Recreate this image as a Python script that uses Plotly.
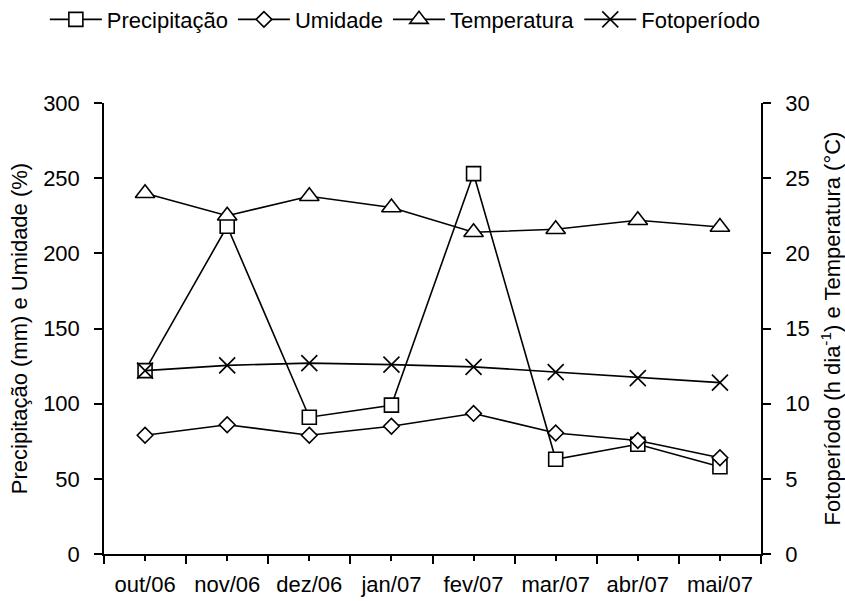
import plotly.graph_objects as go

months = ["out/06", "nov/06", "dez/06", "jan/07", "fev/07", "mar/07", "abr/07", "mai/07"]
precipitacao = [122, 218, 91, 99, 253, 63, 73, 58]
umidade = [79, 86, 79, 85, 93.5, 80.5, 75.5, 64]
temperatura = [24.0, 22.5, 23.8, 23.05, 21.4, 21.6, 22.2, 21.75]
fotoperiodo = [12.2, 12.55, 12.7, 12.6, 12.45, 12.1, 11.7, 11.4]

left_ticks = [0, 50, 100, 150, 200, 250, 300]
right_ticks = [0, 5, 10, 15, 20, 25, 30]

x_pos = list(range(len(months)))
bounds = [i - 0.5 for i in range(len(months) + 1)]

FONT = "Liberation Sans, Arial, sans-serif"
BLACK = "#000000"
LINE_W = 1.6

fig = go.Figure()

fig.add_trace(go.Scatter(
    x=x_pos, y=precipitacao, name="Precipitação", mode="lines+markers",
    line=dict(color=BLACK, width=LINE_W),
    marker=dict(symbol="square", size=14, color="white", line=dict(color=BLACK, width=1.6)),
))
fig.add_trace(go.Scatter(
    x=x_pos, y=umidade, name="Umidade", mode="lines+markers",
    line=dict(color=BLACK, width=LINE_W),
    marker=dict(symbol="diamond", size=12, color="white", line=dict(color=BLACK, width=1.6)),
))
fig.add_trace(go.Scatter(
    x=x_pos, y=temperatura, name="Temperatura", mode="lines+markers", yaxis="y2",
    line=dict(color=BLACK, width=LINE_W),
    marker=dict(symbol="triangle-up", size=17, color="white", line=dict(color=BLACK, width=1.6)),
))
fig.add_trace(go.Scatter(
    x=x_pos, y=fotoperiodo, name="Fotoperíodo", mode="lines+markers", yaxis="y2",
    line=dict(color=BLACK, width=LINE_W),
    marker=dict(symbol="x-thin", size=16, color=BLACK, line=dict(color=BLACK, width=1.6)),
))

axis_font = dict(family=FONT, size=22, color=BLACK)

fig.update_layout(
    width=845, height=601,
    margin=dict(l=104, r=84, t=103, b=47, autoexpand=False),
    paper_bgcolor="white", plot_bgcolor="white",
    font=axis_font,
    showlegend=True,
    legend=dict(
        orientation="h", x=-0.09, xanchor="left", y=1.185, yanchor="middle",
        font=dict(family=FONT, size=22, color=BLACK), bgcolor="rgba(0,0,0,0)",
        itemwidth=52, tracegroupgap=0,
    ),
    xaxis=dict(
        range=[-0.5, len(months) - 0.5], tickmode="array", tickvals=x_pos, ticktext=months,
        showline=True, linecolor=BLACK, linewidth=1.5, showgrid=False, zeroline=False,
        ticks="outside", ticklen=5, tickwidth=1.5, tickcolor=BLACK,
        minor=dict(tickmode="array", tickvals=bounds, ticks="outside", ticklen=8,
                   tickwidth=1.5, tickcolor=BLACK),
        tickfont=axis_font, ticklabelstandoff=5, automargin=False,
    ),
    xaxis2=dict(
        overlaying="x", anchor="y", range=[-0.5, len(months) - 0.5],
        tickmode="array", tickvals=x_pos, showticklabels=False,
        ticks="inside", ticklen=5, tickwidth=1.5, tickcolor=BLACK,
        showline=False, showgrid=False, zeroline=False, automargin=False,
    ),
    yaxis=dict(
        range=[0, 300], tickmode="array", tickvals=left_ticks,
        showline=True, linecolor=BLACK, linewidth=1.5, showgrid=False, zeroline=False,
        ticks="outside", ticklen=8, tickwidth=1.5, tickcolor=BLACK,
        tickfont=axis_font, ticklabelstandoff=10, automargin=False,
        title=dict(text="Precipitação (mm) e Umidade (%)", font=axis_font, standoff=9),
    ),
    yaxis2=dict(
        overlaying="y", side="right", anchor="x", range=[0, 30],
        tickmode="array", tickvals=right_ticks,
        showline=True, linecolor=BLACK, linewidth=1.5, showgrid=False, zeroline=False,
        ticks="outside", ticklen=8, tickwidth=1.5, tickcolor=BLACK,
        tickfont=axis_font, ticklabelstandoff=10, automargin=False,
        title=dict(text="Fotoperíodo (h dia<sup>-1</sup>) e Temperatura (°C)", font=axis_font, standoff=18),
    ),
    yaxis3=dict(
        overlaying="y", side="left", anchor="x", range=[0, 300],
        tickmode="array", tickvals=left_ticks, showticklabels=False,
        ticks="inside", ticklen=8, tickwidth=1.5, tickcolor=BLACK,
        showline=False, showgrid=False, zeroline=False, automargin=False,
    ),
    yaxis4=dict(
        overlaying="y", side="right", anchor="x", range=[0, 30],
        tickmode="array", tickvals=right_ticks, showticklabels=False,
        ticks="inside", ticklen=8, tickwidth=1.5, tickcolor=BLACK,
        showline=False, showgrid=False, zeroline=False, automargin=False,
    ),
)

fig.write_html("out.html")
